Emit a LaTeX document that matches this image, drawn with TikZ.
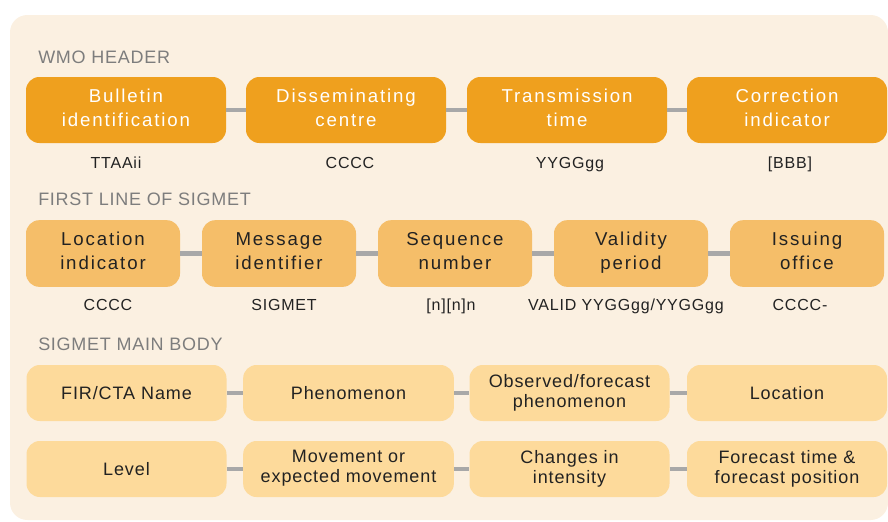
\documentclass[tikz,border=0pt]{standalone}
\usepackage{fontspec}
\setmainfont{Liberation Sans}[LetterSpace=5]
\newfontfamily\titlefont{Liberation Sans}[LetterSpace=4]
\newfontfamily\widefont{Liberation Sans}[LetterSpace=10]
\usepackage{xcolor}

\definecolor{panelcream}{RGB}{251,240,225}
\definecolor{hdrorange}{RGB}{239,160,30}
\definecolor{lineorange}{RGB}{245,190,105}
\definecolor{bodyorange}{RGB}{253,218,155}
\definecolor{linkgrey}{RGB}{168,168,168}
\definecolor{titlegrey}{RGB}{125,125,125}
\definecolor{codeblack}{RGB}{34,34,34}

% keeps the caps centred in every box, one line or two
\newcommand{\capstrut}{\rule[-3.5pt]{0pt}{17pt}}

\tikzset{
  boxbase/.style={rounded corners=10pt, align=center, inner sep=0pt, execute at begin node=\capstrut, execute at end node=\capstrut},
  hdrbox/.style={boxbase, fill=hdrorange, text=white, minimum width=150pt, minimum height=49.5pt, font=\widefont\fontsize{14}{18}\selectfont},
  linebox/.style={boxbase, fill=lineorange, text=codeblack, minimum width=115.5pt, minimum height=50pt, font=\widefont\fontsize{14}{18}\selectfont},
  bodybox/.style={boxbase, fill=bodyorange, text=codeblack, minimum width=150pt, minimum height=42pt, font=\fontsize{13.5}{15}\selectfont},
  codetext/.style={text=codeblack, anchor=base, inner sep=0pt, font=\fontsize{12}{14}\selectfont},
  sectitle/.style={text=titlegrey, anchor=base west, inner sep=0pt, font=\titlefont\fontsize{13.5}{16}\selectfont},
  link/.style={draw=linkgrey, line width=3.5pt}
}

\begin{document}
\begin{tikzpicture}[x=0.75pt,y=0.75pt,yscale=-1,xscale=1]
    \useasboundingbox (0,0) rectangle (888,521);

    %Shape: Rectangle [id:panel] 
    \fill [panelcream, rounded corners=13pt] (10,15) rectangle (888,520);

    % Text Node
    \draw (38,63) node [sectitle] (wmotitle) {WMO HEADER};
    % Text Node
    \draw (38,205.5) node [sectitle] (firsttitle) {FIRST LINE OF SIGMET};
    % Text Node
    \draw (38,350.5) node [sectitle] (maintitle) {SIGMET MAIN BODY};

    %Shape: WMO header boxes
    \draw (126,110) node [hdrbox] (bulletin) {Bulletin\\identification};
    \draw (346,110) node [hdrbox] (dissem) {Disseminating\\centre};
    \draw (567,110) node [hdrbox] (transtime) {Transmission\\time};
    \draw (787,110) node [hdrbox] (correction) {Correction\\indicator};

    % Text Node
    \draw (116,168) node [codetext] (ttaaii) {TTAAii};
    \draw (350,168) node [codetext] (cccchdr) {CCCC};
    \draw (570,168) node [codetext] (yygggg) {YYGGgg};
    \draw (790,168) node [codetext] (bbb) {[BBB]};

    %Shape: first line boxes
    \draw (103,253.5) node [linebox] (locind) {Location\\indicator};
    \draw (279,253.5) node [linebox] (msgid) {Message\\identifier};
    \draw (455,253.5) node [linebox] (seqnum) {Sequence\\number};
    \draw (631,253.5) node [linebox] (validity) {Validity\\period};
    \draw (807,253.5) node [linebox] (issuing) {Issuing\\office};

    % Text Node
    \draw (108,310) node [codetext] (ccccloc) {CCCC};
    \draw (284,310) node [codetext] (sigmet) {SIGMET};
    \draw (451,310) node [codetext] (nnn) {[n][n]n};
    \draw (626,310) node [codetext] (valid) {VALID YYGGgg/YYGGgg};
    \draw (800,310) node [codetext] (ccccoff) {CCCC-};

    %Shape: main body boxes
    \draw (126.5,393) node [bodybox] (firname) {FIR/CTA Name};
    \draw (348.5,393) node [bodybox, minimum width=158pt] (phenom) {Phenomenon};
    \draw (569.5,393) node [bodybox] (obsfc) {Observed/forecast\\phenomenon};
    \draw (787,393) node [bodybox] (location) {Location};

    \draw (126.5,469) node [bodybox] (level) {Level};
    \draw (348.5,469) node [bodybox, minimum width=158pt] (movement) {Movement or\\expected movement};
    \draw (569.5,469) node [bodybox] (changes) {Changes in\\intensity};
    \draw (787,469) node [bodybox] (fctime) {Forecast time \&\\forecast position};

    %Straight Lines
    \draw [link] (bulletin) -- (dissem);
    \draw [link] (dissem) -- (transtime);
    \draw [link] (transtime) -- (correction);

    \draw [link] (locind) -- (msgid);
    \draw [link] (msgid) -- (seqnum);
    \draw [link] (seqnum) -- (validity);
    \draw [link] (validity) -- (issuing);

    \draw [link] (firname) -- (phenom);
    \draw [link] (phenom) -- (obsfc);
    \draw [link] (obsfc) -- (location);

    \draw [link] (level) -- (movement);
    \draw [link] (movement) -- (changes);
    \draw [link] (changes) -- (fctime);

\end{tikzpicture}
\end{document}
